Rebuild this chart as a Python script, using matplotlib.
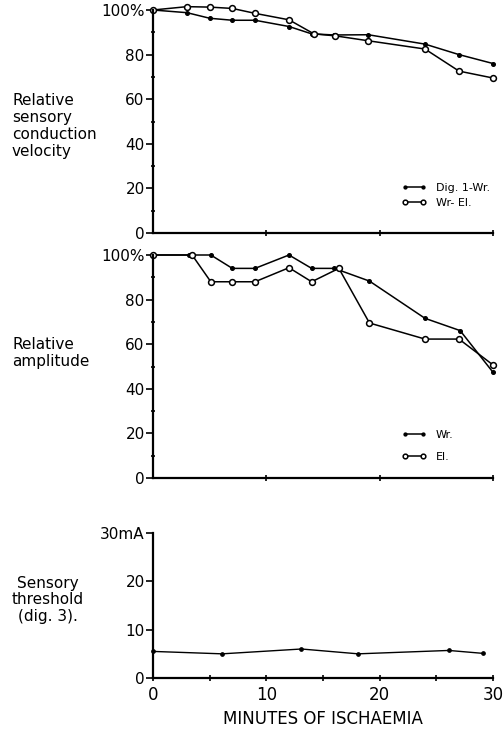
import matplotlib
matplotlib.use("Agg")
import matplotlib.pyplot as plt

# conduction velocity (% of initial)
cv_t_dig = [0, 3, 5, 7, 9, 12, 14, 16, 19, 24, 27, 30]
cv_dig = [100, 98.8, 96.3, 95.4, 95.4, 92.6, 89.3, 88.8, 88.9, 84.7, 80, 76]
cv_t_wr = [0, 3, 5, 7, 9, 12, 14.2, 16.1, 19, 24, 27, 30]
cv_wr = [100, 101.5, 101.3, 100.7, 98.5, 95.6, 89.3, 88.4, 86.2, 82.5, 72.6, 69.5]

# amplitude (% of initial)
amp_t_wr = [0, 3.2, 5.1, 7, 9, 12, 14, 16, 19.1, 24, 27.1, 30]
amp_wr = [100, 100, 100, 94, 94, 100, 94, 94, 88.3, 71.6, 66.1, 47.4]
amp_t_el = [0, 3.45, 5.1, 7, 9, 12, 14, 16.4, 19.1, 24, 27, 30]
amp_el = [100, 100, 88, 88, 88, 94.3, 88, 94, 69.5, 62.3, 62.3, 50.7]

# sensory threshold (mA)
thr_t = [0, 6.1, 13.1, 18.1, 26.1, 29.1]
thr = [5.5, 5.0, 6.0, 5.0, 5.7, 5.1]

W, H = 504, 730
fig = plt.figure(figsize=(W / 100, H / 100), dpi=100)
plt.rcParams['font.family'] = 'DejaVu Sans'

left = 153 / W
width = (493 - 153) / W


def make_ax(ytop, ybot):
    ax = fig.add_axes([left, 1 - ybot / H, width, (ybot - ytop) / H])
    for s in ['top', 'right']:
        ax.spines[s].set_visible(False)
    for s in ['left', 'bottom']:
        ax.spines[s].set_linewidth(1.6)
    ax.set_xlim(0, 30)
    ax.tick_params(axis='y', which='major', direction='out', length=5, width=1.2, labelsize=11, pad=1)
    ax.tick_params(axis='y', which='minor', direction='inout', length=3, width=1.2)
    ax.tick_params(axis='x', which='both', direction='inout', length=5, width=1.2, labelsize=11)
    return ax


black = dict(color='black', lw=1.1, marker='o', ms=2.6, mfc='black', mec='black', clip_on=False)
white = dict(color='black', lw=1.1, marker='o', ms=4.2, mfc='white', mec='black', mew=1.1, clip_on=False)
leg_kw = dict(loc='lower left', frameon=False, numpoints=2, handlelength=2.2, fontsize=8,
              handletextpad=0.9, borderpad=0, borderaxespad=0, markerscale=0.8)

# top panel
ax1 = make_ax(10, 233)
l1, = ax1.plot(cv_t_dig, cv_dig, label='Dig. 1-Wr.', **black)
l2, = ax1.plot(cv_t_wr, cv_wr, label='Wr- El.', **white)
ax1.set_ylim(0, 100)
ax1.set_yticks([0, 20, 40, 60, 80, 100])
ax1.set_yticklabels(['0', '20', '40', '60', '80', '100%'])
ax1.set_yticks([10, 30, 50, 70, 90], minor=True)
ax1.set_xticks([10, 20, 30])
ax1.set_xticklabels([])
ax1.legend(handles=[l1, l2], bbox_to_anchor=(0.731, 0.112), labelspacing=0.45, **leg_kw)

# middle panel
ax2 = make_ax(255, 478)
m1, = ax2.plot(amp_t_wr, amp_wr, label='Wr.', **black)
m2, = ax2.plot(amp_t_el, amp_el, label='El.', **white)
ax2.set_ylim(0, 100)
ax2.set_yticks([0, 20, 40, 60, 80, 100])
ax2.set_yticklabels(['0', '20', '40', '60', '80', '100%'])
ax2.set_yticks([10, 30, 50, 70, 90], minor=True)
ax2.set_xticks([10, 20, 30])
ax2.set_xticklabels([])
ax2.legend(handles=[m1, m2], bbox_to_anchor=(0.731, 0.072), labelspacing=1.1, **leg_kw)

# bottom panel
ax3 = make_ax(533, 678)
ax3.plot(thr_t, thr, color='black', lw=1.0, marker='o', ms=2.4, clip_on=False)
ax3.set_ylim(0, 30)
ax3.set_yticks([0, 10, 20, 30])
ax3.set_yticklabels(['0', '10', '20', '30mA'])
ax3.set_xticks([0, 10, 20, 30])
ax3.set_xticks([5, 15, 25], minor=True)
ax3.tick_params(axis='x', which='major', labelsize=12)
ax3.set_xlabel('MINUTES OF ISCHAEMIA', fontsize=12, labelpad=4)

fig.text(12 / W, 1 - 126 / H, 'Relative\nsensory\nconduction\nvelocity', fontsize=11,
         ha='left', va='center', linespacing=1.15)
fig.text(12 / W, 1 - 353 / H, 'Relative\namplitude', fontsize=11,
         ha='left', va='center', linespacing=1.15)
fig.text(48 / W, 1 - 600 / H, 'Sensory\nthreshold\n(dig. 3).', fontsize=11,
         ha='center', va='center', multialignment='center', linespacing=1.15)

fig.savefig('out.png', dpi=100)
